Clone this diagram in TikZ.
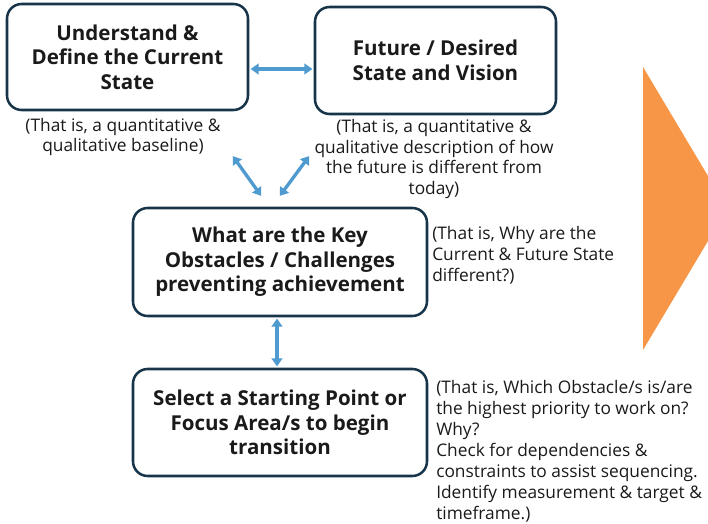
\documentclass[tikz,border=0pt]{standalone}
\usepackage{fontspec}
\setmainfont{Open Sans}
\usetikzlibrary{arrows.meta}
\definecolor{navy}{HTML}{173449}
\definecolor{skyblue}{HTML}{4F9BD0}
\definecolor{tangerine}{HTML}{F79646}
\definecolor{ink}{HTML}{1A1A1A}

\begin{document}
\begin{tikzpicture}[x=0.75pt, y=-0.75pt,
    stagebox/.style={draw=navy, line width=1.9pt, rounded corners=11pt, align=center,
        font=\fontsize{15.4}{18.4}\selectfont\bfseries, text=ink, inner sep=0pt},
    note/.style={font=\fontsize{13}{15.7}\selectfont, text=ink, inner sep=0pt},
    link/.style={{Triangle[length=6pt,width=8pt]}-{Triangle[length=6pt,width=8pt]}, line width=2.5pt, skyblue, shorten <=1pt, shorten >=1pt}]
    \useasboundingbox (0,0) rectangle (708,524);

    % Stage boxes (sizes in pt, 1px = 0.75pt)
    \node[stagebox, minimum width=180.75pt, minimum height=79.5pt] (current) at (127.5,57) {Understand \&\\Define the Current\\State};
    \node[stagebox, minimum width=180.75pt, minimum height=80.25pt] (future) at (435.5,60.5) {Future / Desired\\State and Vision};
    \node[stagebox, minimum width=220.5pt, minimum height=81pt] (obstacles) at (280,262) {What are the Key\\Obstacles / Challenges\\preventing achievement};
    \node[stagebox, minimum width=220.5pt, minimum height=80.25pt] (start) at (280,422.5) {Select a Starting Point or\\Focus Area/s to begin\\transition};

    % Notes
    \node[note, align=center] (currentnote) at (123,137) {(That is, a quantitative \&\\qualitative baseline)};
    \node[note, align=center] (futurenote) at (434,159) {(That is, a quantitative \&\\qualitative description of how\\the future is different from\\today)};
    \node[note, align=left, anchor=west] (obstaclesnote) at (432,255) {(That is, Why are the\\Current \& Future State\\different?)};
    \node[note, align=left, anchor=west] (startnote) at (436,451) {(That is, Which Obstacle/s is/are\\the highest priority to work on?\\Why?\\Check for dependencies \&\\constraints to assist sequencing.\\Identify measurement \& target \&\\timeframe.)};

    % Arrow ends
    \coordinate (a1) at (current.east |- 0,69);
    \coordinate (a2) at (future.west |- 0,69);
    \coordinate (b1) at (232,155);
    \coordinate (b2) at (262,197);
    \coordinate (c1) at (279,197);
    \coordinate (c2) at (310,155);

    % Links
    \draw[link] (a1) -- (a2);
    \draw[link] (b1) -- (b2);
    \draw[link] (c1) -- (c2);
    \draw[link] (obstacles.south -| 277,0) -- (start.north -| 277,0);

    % Orange chevron, cut at the right edge
    \fill[tangerine] (643,67) -- (708,176) -- (708,241) -- (643,350) -- cycle;
\end{tikzpicture}
\end{document}
